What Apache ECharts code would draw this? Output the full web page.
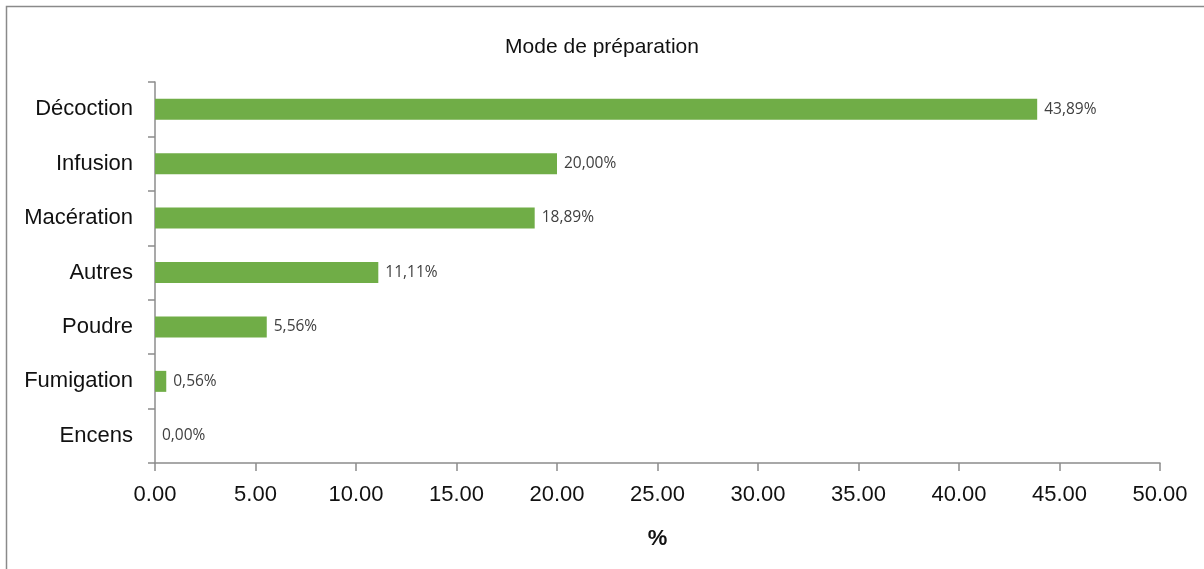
<!DOCTYPE html>
<html>
<head>
<meta charset="utf-8">
<script src="https://cdn.jsdelivr.net/npm/echarts@6/dist/echarts.min.js"></script>
<style>
  html, body { margin: 0; padding: 0; background: #fff; }
  #chart { width: 1204px; height: 569px; }
</style>
</head>
<body>
<div id="chart"></div>
<script>
// Preparation methods and their share (%)
const categories = ['Décoction', 'Infusion', 'Macération', 'Autres', 'Poudre', 'Fumigation', 'Encens'];
const values = [43.89, 20.00, 18.89, 11.11, 5.56, 0.56, 0.00];
const xTicks = { min: 0, max: 50, interval: 5 };

const axisGray = '#8c8c8c';
const chart = echarts.init(document.getElementById('chart'));

chart.setOption({
  animation: false,
  backgroundColor: '#ffffff',
  title: {
    text: 'Mode de préparation',
    left: 'center',
    top: 32,
    textStyle: { fontFamily: 'Liberation Sans, Arial, sans-serif', fontSize: 21, fontWeight: 'normal', color: '#111' }
  },
  graphic: [{
    type: 'rect',
    shape: { x: 6.5, y: 6.5, width: 1400, height: 800 },
    style: { fill: 'none', stroke: '#8a8a8a', lineWidth: 1.5 },
    silent: true
  }],
  grid: { left: 155, right: 44, top: 82, bottom: 106, containLabel: false },
  xAxis: {
    type: 'value',
    min: xTicks.min,
    max: xTicks.max,
    interval: xTicks.interval,
    name: '%',
    nameLocation: 'middle',
    nameGap: 65,
    nameTextStyle: { fontFamily: 'Liberation Sans, Arial, sans-serif', fontSize: 22, fontWeight: 'bold', color: '#111' },
    axisLine: { show: true, lineStyle: { color: axisGray, width: 1.5 } },
    axisTick: { show: true, length: 8, lineStyle: { color: axisGray, width: 1.5 } },
    splitLine: { show: false },
    axisLabel: {
      margin: 21,
      fontFamily: 'Liberation Sans, Arial, sans-serif',
      fontSize: 22,
      color: '#111',
      formatter: v => v.toFixed(2)
    }
  },
  yAxis: {
    type: 'category',
    data: categories,
    inverse: true,
    axisLine: { show: true, lineStyle: { color: axisGray, width: 1.5 } },
    axisTick: { show: true, length: 7, alignWithLabel: false, lineStyle: { color: axisGray, width: 1.5 } },
    axisLabel: {
      margin: 22,
      fontFamily: 'Liberation Sans, Arial, sans-serif',
      fontSize: 22,
      color: '#111'
    }
  },
  series: [{
    type: 'bar',
    data: values,
    barWidth: 21,
    itemStyle: { color: '#70ad47' },
    label: {
      show: true,
      position: 'right',
      distance: 7,
      fontFamily: 'Open Sans, sans-serif',
      fontSize: 15.5,
      color: '#404040',
      formatter: p => p.value.toFixed(2).replace('.', ',') + '%'
    }
  }]
});
</script>
</body>
</html>
